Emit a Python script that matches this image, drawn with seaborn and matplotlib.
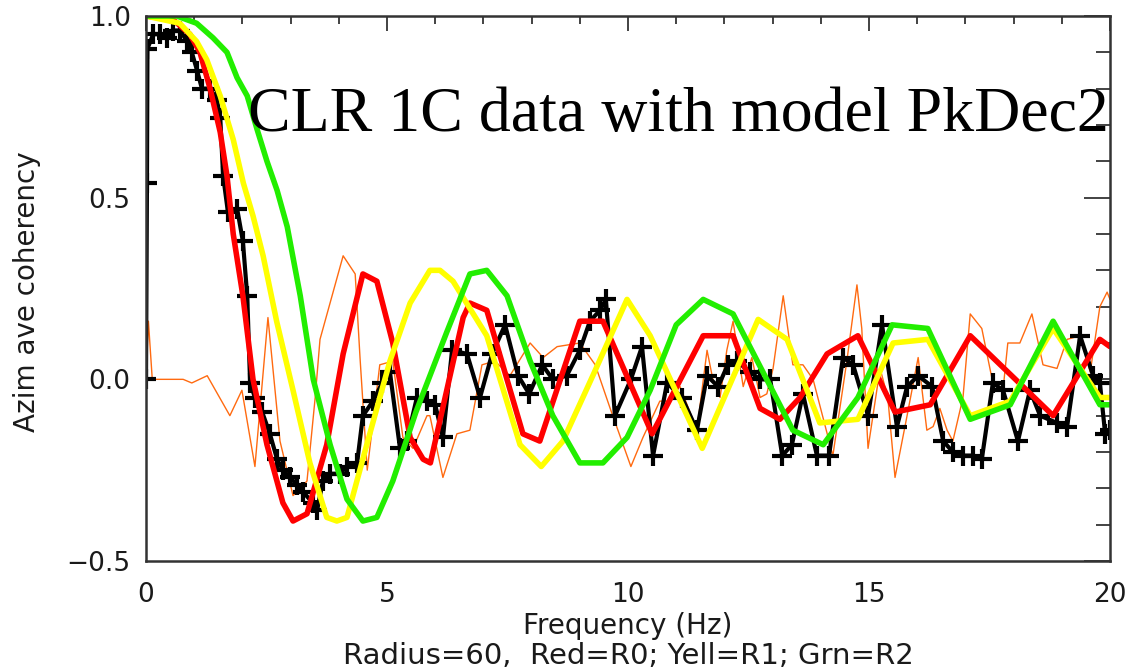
import numpy as np
import pandas as pd
import matplotlib
matplotlib.use("Agg")
import matplotlib.pyplot as plt
import seaborn as sns
from matplotlib.ticker import MultipleLocator

# ---------------- data ----------------
data_freq = [0.0, 0.02, 0.03, 0.15, 0.29, 0.44, 0.56, 0.71, 0.85, 0.95, 1.06, 1.16, 1.33, 1.47,
             1.54, 1.60, 1.70, 1.89, 2.01, 2.10, 2.16, 2.26, 2.41, 2.57, 2.72, 2.84, 2.99, 3.13,
             3.26, 3.46, 3.55, 3.67, 3.82, 4.02, 4.17, 4.38, 4.50, 4.71, 4.90, 5.06, 5.27, 5.41,
             5.62, 5.83, 6.00, 6.16, 6.35, 6.66, 6.93, 7.18, 7.45, 7.72, 7.95, 8.22, 8.44, 8.73,
             9.00, 9.21, 9.42, 9.54, 9.73, 10.06, 10.29, 10.52, 10.81, 11.12, 11.43, 11.64, 11.87,
             12.07, 12.26, 12.53, 12.74, 12.95, 13.20, 13.40, 13.63, 13.92, 14.17, 14.46, 14.67,
             14.98, 15.27, 15.58, 15.79, 16.02, 16.31, 16.54, 16.74, 16.95, 17.16, 17.34, 17.57,
             17.78, 18.09, 18.34, 18.55, 18.90, 19.11, 19.38, 19.65, 19.79, 19.90, 20.0]
data_coh = [0.0, 0.54, 0.91, 0.95, 0.95, 0.94, 0.96, 0.96, 0.93, 0.90, 0.85, 0.80, 0.80, 0.77,
            0.72, 0.56, 0.46, 0.47, 0.38, 0.23, -0.01, -0.05, -0.09, -0.15, -0.22, -0.25, -0.27, -0.29,
            -0.31, -0.34, -0.36, -0.28, -0.26, -0.26, -0.24, -0.23, -0.10, -0.06, -0.01, 0.02, -0.19, -0.17,
            -0.05, -0.06, -0.07, -0.16, 0.08, 0.07, -0.05, 0.07, 0.15, 0.01, -0.04, 0.04, 0.00, 0.01,
            0.08, 0.16, 0.19, 0.22, -0.10, 0.00, 0.09, -0.21, -0.01, -0.05, -0.14, 0.01, -0.02,
            0.04, 0.05, 0.02, 0.00, 0.00, -0.21, -0.18, -0.04, -0.21, -0.21, 0.06, 0.04,
            -0.10, 0.15, -0.13, -0.02, 0.01, -0.02, -0.17, -0.20, -0.21, -0.21, -0.22, -0.01,
            -0.03, -0.17, -0.03, -0.10, -0.12, -0.13, 0.12, 0.01, -0.01, -0.15, -0.14]

orange_freq = [0.0, 0.05, 0.13, 0.77, 0.95, 1.27, 1.74, 1.99, 2.26, 2.53, 2.78, 3.05, 3.34, 3.51,
               3.61, 4.09, 4.34, 4.44, 4.59, 4.85, 5.12, 5.33, 5.54, 5.83, 5.89, 6.16, 6.45, 6.72,
               6.97, 7.24, 7.55, 7.97, 8.24, 8.53, 9.00, 9.32, 9.63, 10.06, 10.31, 10.66, 10.81,
               11.08, 11.43, 11.64, 11.76, 11.91, 12.05, 12.18, 12.39, 12.57, 12.74, 12.88, 13.01,
               13.22, 13.42, 13.63, 13.84, 14.25, 14.54, 14.75, 14.85, 14.98, 15.23, 15.39, 15.54,
               15.79, 16.02, 16.20, 16.33, 16.47, 16.62, 16.74, 16.95, 17.10, 17.34, 17.57, 17.78,
               17.88, 18.13, 18.38, 18.61, 18.90, 19.11, 19.38, 19.59, 19.79, 19.94, 20.0]
orange_coh = [0.0, 0.16, 0.0, 0.0, -0.01, 0.01, -0.10, -0.03, -0.24, 0.17, -0.17, -0.32, -0.28, -0.05,
              0.11, 0.34, 0.29, 0.06, -0.25, 0.04, 0.05, -0.16, -0.19, -0.10, -0.10, -0.27, -0.15, -0.14,
              0.04, 0.05, 0.01, 0.10, 0.06, 0.09, 0.10, 0.04, -0.08, -0.24, -0.16, -0.06, -0.06,
              -0.02, -0.14, 0.08, 0.00, -0.05, 0.08, 0.16, -0.02, 0.06, -0.05, -0.04, 0.03,
              0.23, 0.04, 0.04, 0.00, -0.21, 0.05, 0.26, 0.14, -0.19, 0.03, -0.05, -0.27,
              -0.10, 0.06, -0.14, -0.13, -0.08, -0.14, -0.17, -0.05, 0.18, 0.14, -0.01, -0.03,
              0.10, 0.10, 0.18, 0.04, 0.03, 0.11, 0.12, 0.02, 0.20, 0.24, 0.22]

red_freq = [0.0, 0.56, 0.91, 1.12, 1.33, 1.54, 1.68, 1.81, 2.01, 2.22, 2.51, 2.84, 3.05, 3.34,
            3.75, 4.09, 4.50, 4.79, 5.12, 5.48, 5.75, 5.90, 6.58, 6.72, 7.07, 7.82, 8.17, 9.00,
            9.48, 10.50, 11.56, 12.18, 12.74, 13.15, 13.57, 14.13, 14.77, 15.54, 16.27, 17.10,
            18.82, 19.79, 20.0]
red_coh = [1.0, 0.99, 0.95, 0.90, 0.80, 0.68, 0.56, 0.40, 0.23, 0.0, -0.18, -0.34, -0.39, -0.37,
           -0.18, 0.07, 0.29, 0.27, 0.10, -0.16, -0.22, -0.23, 0.17, 0.21, 0.19, -0.15, -0.17, 0.16,
           0.16, -0.15, 0.12, 0.12, -0.08, -0.11, -0.05, 0.07, 0.12, -0.09, -0.07, 0.12,
           -0.10, 0.11, 0.09]

yellow_freq = [0.0, 0.70, 1.05, 1.26, 1.54, 1.81, 2.02, 2.22, 2.43, 2.71, 3.05, 3.40, 3.75, 3.96,
               4.17, 4.58, 5.06, 5.48, 5.89, 6.10, 6.37, 7.07, 7.76, 8.20, 8.65, 9.27, 9.98, 10.46,
               11.54, 12.70, 13.30, 13.98, 14.77, 15.50, 16.22, 17.10, 17.93, 18.82, 19.79, 20.0]
yellow_coh = [1.0, 0.98, 0.93, 0.88, 0.78, 0.66, 0.54, 0.45, 0.34, 0.16, -0.03, -0.23, -0.38, -0.39,
              -0.38, -0.18, 0.05, 0.21, 0.30, 0.30, 0.27, 0.12, -0.18, -0.24, -0.17, 0.01, 0.22, 0.12,
              -0.19, 0.165, 0.11, -0.12, -0.11, 0.10, 0.11, -0.10, -0.06, 0.14, -0.05, -0.05]

green_freq = [0.0, 0.64, 1.05, 1.39, 1.68, 1.89, 2.10, 2.30, 2.51, 2.72, 2.93, 3.20, 3.47, 3.82,
              4.17, 4.50, 4.79, 5.12, 5.60, 6.24, 6.72, 7.07, 7.49, 7.97, 8.44, 9.00, 9.48, 9.98,
              10.46, 11.00, 11.56, 12.18, 13.42, 14.05, 14.77, 15.48, 16.22, 17.10, 17.93, 18.82,
              19.79, 20.0]
green_coh = [1.0, 1.0, 0.98, 0.94, 0.90, 0.83, 0.78, 0.69, 0.60, 0.52, 0.42, 0.23, 0.0, -0.18,
             -0.33, -0.39, -0.38, -0.28, -0.09, 0.13, 0.29, 0.30, 0.23, 0.05, -0.10, -0.23, -0.23, -0.16,
             -0.03, 0.15, 0.22, 0.18, -0.14, -0.18, -0.05, 0.15, 0.14, -0.11, -0.07, 0.16,
             -0.07, -0.07]

x_ticks = [0, 5, 10, 15, 20]
y_ticks = [-0.5, 0.0, 0.5, 1.0]

# ---------------- figure ----------------
sns.set_theme(style="white")
plt.rcParams['font.family'] = ['DejaVu Sans']

fig = plt.figure(figsize=(11.30, 6.71), dpi=100)
ax = fig.add_axes([146 / 1130, 1 - 561 / 671, 964 / 1130, 545 / 671])

sns.lineplot(x=orange_freq, y=orange_coh, color='#ff6a10', linewidth=1.0, sort=False,
             estimator=None, ax=ax)
sns.lineplot(x=data_freq, y=data_coh, color='black', linewidth=3.0, sort=False,
             estimator=None, marker='+', markersize=15, markeredgewidth=3.0,
             markeredgecolor='black', ax=ax)
sns.lineplot(x=red_freq, y=red_coh, color='#ff0000', linewidth=4.0, sort=False,
             estimator=None, ax=ax)
sns.lineplot(x=yellow_freq, y=yellow_coh, color='#ffff00', linewidth=4.0, sort=False,
             estimator=None, ax=ax)
sns.lineplot(x=green_freq, y=green_coh, color='#22ee00', linewidth=4.0, sort=False,
             estimator=None, ax=ax)

txt_color = '#1a1a1a'
ax.set_xlim(0, 20)
ax.set_ylim(-0.5, 1.0)
ax.set_xticks(x_ticks)
ax.set_yticks(y_ticks)
ax.set_xticklabels([str(t) for t in x_ticks])
ax.set_yticklabels(['\u22120.5', '0.0', '0.5', '1.0'])
ax.xaxis.set_minor_locator(MultipleLocator(1))
ax.yaxis.set_minor_locator(MultipleLocator(0.1))
ax.tick_params(which='both', direction='in', top=True, right=True, color='#222222',
               width=1.2, labelsize=19, labelcolor=txt_color)
ax.tick_params(axis='x', which='major', length=11, pad=15)
ax.tick_params(axis='x', which='minor', length=6)
ax.tick_params(axis='y', which='major', length=19, pad=11)
ax.tick_params(axis='y', which='minor', length=10)
for s in ax.spines.values():
    s.set_color('#333333')
    s.set_linewidth(1.8)

ax.set_xlabel('Frequency (Hz)', fontsize=20, color=txt_color)
ax.set_ylabel('Azim ave coherency', fontsize=20, color=txt_color)
ax.xaxis.set_label_coords(0.5, -0.093)
ax.yaxis.set_label_coords(-0.109, 0.494)

fig.text(628 / 1130, 1 - 656 / 671, 'Radius=60,  Red=R0; Yell=R1; Grn=R2', ha='center',
         va='center', fontsize=21, color=txt_color)

ax.text(0.106, 0.789, 'CLR 1C data with model PkDec2', transform=ax.transAxes,
        fontsize=46, family='Liberation Serif', color='black', ha='left', va='baseline')

fig.savefig('out.png', dpi=100)
